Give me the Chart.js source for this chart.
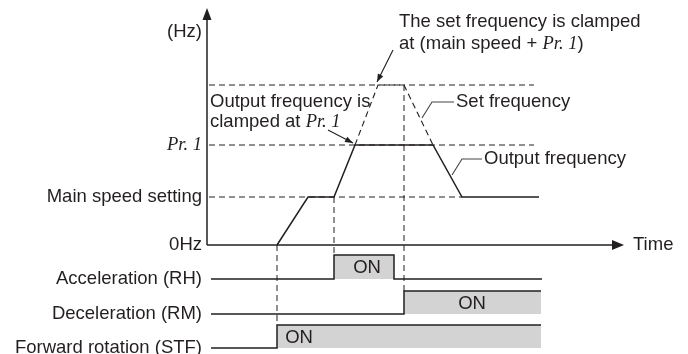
<!DOCTYPE html>
<html><head><meta charset="utf-8">
<script src="https://cdn.jsdelivr.net/npm/chart.js@4"></script>
<style>html,body{margin:0;padding:0;background:#fff;} #wrap{width:688px;height:354px;position:relative;}</style>
</head><body><div id="wrap"><canvas id="c"></canvas></div>
<script>
// ---- data (x: time units, y: frequency / signal level units) ----
const levelLabels = ['(Hz)', 'Pr. 1', 'Main speed setting', '0Hz', 'Acceleration (RH)', 'Deceleration (RM)', 'Forward rotation (STF)'];
const levelValues = [213, 100, 48, 0, -34, -69, -103];
const outputX = [70, 101, 127, 148, 226, 255, 332];
const outputY = [0, 48, 48, 100, 100, 48, 48];
const setX = [148, 171, 197, 226];
const setY = [100, 160, 160, 100];
const guideLevels = [160, 100, 48];
const guideEnds = [327, 327, 255];
const markerX = [70, 127, 197];
const markerTop = [0, 48, 160];
const markerBottom = [-80, -10, -46];
const rhX = [4, 127, 127, 187, 187, 335];
const rhY = [-34, -34, -10, -10, -34, -34];
const rmX = [4, 197, 197, 334];
const rmY = [-69, -69, -46, -46];
const stfX = [4, 70, 70, 334];
const stfY = [-103, -103, -80, -80];
const onLabels = ['ON', 'ON', 'ON'];

const INK = '#231f20';
const SANS = '"Liberation Sans", Arial, sans-serif';
const SERIF = '"Liberation Serif", "Times New Roman", serif';
const FS = 18.5;

const zip = (xs, ys) => xs.map((x, i) => ({x, y: ys[i]}));
const base = {pointRadius: 0, pointHoverRadius: 0, tension: 0, borderColor: INK, fill: false};
const datasets = [];
guideLevels.forEach((lv, i) => datasets.push(Object.assign({}, base, {
  data: [{x: 2, y: lv}, {x: guideEnds[i], y: lv}], borderWidth: 1, borderDash: [6, 4]})));
markerX.forEach((mx, i) => datasets.push(Object.assign({}, base, {
  data: [{x: mx, y: markerTop[i]}, {x: mx, y: markerBottom[i]}], borderWidth: 1, borderDash: [6, 4]})));
datasets.push(Object.assign({}, base, {data: zip(setX, setY), borderWidth: 1.1, borderDash: [6, 4]}));
datasets.push(Object.assign({}, base, {data: zip(outputX, outputY), borderWidth: 1.5}));
[[rhX, rhY], [rmX, rmY], [stfX, stfY]].forEach(([xs, ys]) => datasets.push(Object.assign({}, base, {
  data: zip(xs, ys), borderWidth: 1.5, fill: {value: ys[0]}, backgroundColor: '#d3d3d3'})));

function arrowHead(ctx, x0, y0, x1, y1, len, hw) {
  const a = Math.atan2(y1 - y0, x1 - x0);
  ctx.beginPath();
  ctx.moveTo(x1, y1);
  ctx.lineTo(x1 - len * Math.cos(a) + hw * Math.sin(a), y1 - len * Math.sin(a) - hw * Math.cos(a));
  ctx.lineTo(x1 - len * Math.cos(a) - hw * Math.sin(a), y1 - len * Math.sin(a) + hw * Math.cos(a));
  ctx.closePath();
  ctx.fill();
}
function rich(ctx, parts, x, y) {
  let cx = x;
  parts.forEach(([t, f]) => { ctx.font = f; ctx.fillText(t, cx, y); cx += ctx.measureText(t).width; });
}

const decor = {
  id: 'decor',
  afterDatasetsDraw(chart) {
    const ctx = chart.ctx, xs = chart.scales.x, ys = chart.scales.y;
    const px = v => xs.getPixelForValue(v), py = v => ys.getPixelForValue(v);
    const sans = FS + 'px ' + SANS, ital = 'italic ' + FS + 'px ' + SERIF;
    ctx.save();
    ctx.strokeStyle = INK; ctx.fillStyle = INK; ctx.lineWidth = 1.5; ctx.setLineDash([]);
    // vertical frequency axis
    ctx.beginPath(); ctx.moveTo(px(0), py(0)); ctx.lineTo(px(0), py(ys.max) + 8); ctx.stroke();
    arrowHead(ctx, px(0), py(0), px(0), py(ys.max), 12, 4.5);
    // time axis
    ctx.beginPath(); ctx.moveTo(px(0), py(0)); ctx.lineTo(px(xs.max) - 8, py(0)); ctx.stroke();
    arrowHead(ctx, px(0), py(0), px(xs.max), py(0), 12, 5);
    ctx.textBaseline = 'middle'; ctx.textAlign = 'left';
    ctx.font = sans; ctx.fillText('Time', px(426), py(0));
    // annotations
    rich(ctx, [['Output frequency is', sans]], px(3), py(143));
    rich(ctx, [['clamped at ', sans], ['Pr. 1', ital]], px(3), py(123));
    rich(ctx, [['The set frequency is clamped', sans]], px(192), py(223));
    rich(ctx, [['at (main speed + ', sans], ['Pr. 1', ital], [')', sans]], px(192), py(201));
    rich(ctx, [['Set frequency', sans]], px(249), py(143));
    rich(ctx, [['Output frequency', sans]], px(277), py(86));
    // leaders
    ctx.lineWidth = 1.1;
    ctx.beginPath(); ctx.moveTo(px(121), py(115)); ctx.lineTo(px(146), py(102)); ctx.stroke();
    arrowHead(ctx, px(121), py(115), px(146), py(102), 8, 3);
    ctx.beginPath(); ctx.moveTo(px(186), py(195)); ctx.lineTo(px(170), py(163)); ctx.stroke();
    arrowHead(ctx, px(186), py(195), px(170), py(163), 8, 3);
    ctx.strokeStyle = '#444';
    ctx.beginPath(); ctx.moveTo(px(247), py(143)); ctx.lineTo(px(225), py(143)); ctx.lineTo(px(215), py(127)); ctx.stroke();
    ctx.beginPath(); ctx.moveTo(px(275), py(86)); ctx.lineTo(px(255), py(86)); ctx.lineTo(px(245), py(70)); ctx.stroke();
    // ON labels
    ctx.fillStyle = INK; ctx.font = sans; ctx.textAlign = 'center';
    ctx.fillText(onLabels[0], px(160), py(-23));
    ctx.fillText(onLabels[1], px(265), py(-59));
    ctx.fillText(onLabels[2], px(92), py(-93));
    ctx.restore();
  }
};

new Chart(document.getElementById('c'), {
  type: 'line',
  data: {datasets},
  plugins: [decor],
  options: {
    responsive: true, maintainAspectRatio: false, animation: false,
    layout: {padding: {left: 0, right: 64, top: 8, bottom: 0}},
    plugins: {legend: {display: false}, tooltip: {enabled: false}},
    events: [],
    scales: {
      x: {type: 'linear', min: 0, max: 417, display: false},
      y: {
        type: 'linear', min: -109, max: 237,
        grid: {display: false, drawTicks: false}, border: {display: false},
        afterBuildTicks: s => { s.ticks = levelValues.map(v => ({value: v})); },
        afterFit: s => { s.width = 207; s.paddingTop = 0; s.paddingBottom = 0; },
        ticks: {
          autoSkip: false, padding: 5, color: INK,
          callback: v => { const i = levelValues.indexOf(v); return i >= 0 ? levelLabels[i] : ''; },
          font: c => (c.tick && c.tick.value === 100)
            ? {family: SERIF, style: 'italic', size: FS}
            : {family: SANS, size: FS}
        }
      }
    }
  }
});
</script></body></html>
